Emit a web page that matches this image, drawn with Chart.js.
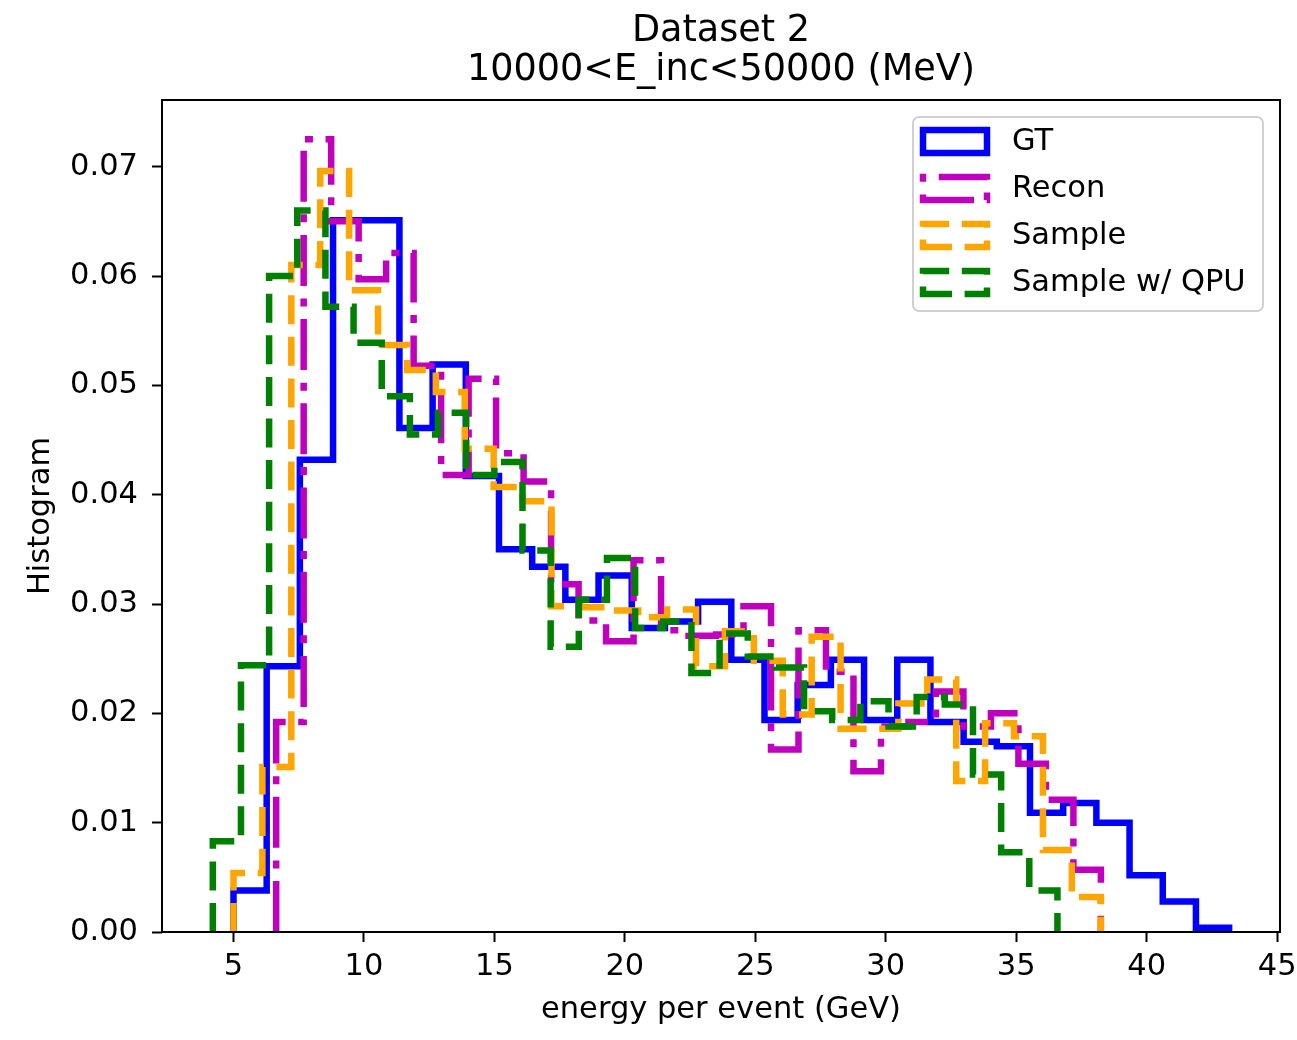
<!DOCTYPE html>
<html>
<head>
<meta charset="utf-8">
<title>Dataset 2 energy histogram</title>
<script src="https://cdn.jsdelivr.net/npm/chart.js@4.4.0/dist/chart.umd.min.js"></script>
<style>
  html, body { margin: 0; padding: 0; background: #fff; }
  #wrap { width: 1297px; height: 1040px; }
</style>
</head>
<body>
<div id="wrap"><canvas id="hist" width="1297" height="1040"></canvas></div>
<script>
// bin ranges in GeV (each histogram has 30 equal bins over its own range)
const gtRange = [5.0, 43.16];
const reconRange = [6.636, 38.245];
const sampleRange = [5.0, 38.24];
const qpuRange = [4.207, 36.58];

// normalised bin heights
const gtValues = [0.0038, 0.0243, 0.0432, 0.0651, 0.0651, 0.0461, 0.0519, 0.0417, 0.0350, 0.0334,
                  0.0304, 0.0326, 0.0278, 0.0284, 0.0302, 0.0249, 0.0194, 0.0226, 0.0249, 0.0194,
                  0.0249, 0.0192, 0.0174, 0.0170, 0.0109, 0.0118, 0.0100, 0.0052, 0.0028, 0.0004];
const reconValues = [0.0192, 0.0725, 0.0650, 0.0597, 0.0621, 0.0518, 0.0418, 0.0506, 0.0438, 0.0412,
                     0.0318, 0.0285, 0.0266, 0.0340, 0.0276, 0.0271, 0.0272, 0.0298, 0.0167, 0.0276,
                     0.0238, 0.0147, 0.0188, 0.0192, 0.0220, 0.0188, 0.0200, 0.0154, 0.0121, 0.0057];
const sampleValues = [0.0054, 0.0151, 0.0610, 0.0696, 0.0587, 0.0537, 0.0514, 0.0494, 0.0442, 0.0407,
                      0.0394, 0.0298, 0.0297, 0.0294, 0.0288, 0.0295, 0.0243, 0.0275, 0.0248, 0.0199,
                      0.0270, 0.0186, 0.0186, 0.0209, 0.0231, 0.0138, 0.0191, 0.0179, 0.0075, 0.0032];
const qpuValues = [0.0083, 0.0244, 0.0600, 0.0660, 0.0572, 0.0539, 0.0490, 0.0455, 0.0475, 0.0418,
                   0.0430, 0.0349, 0.0261, 0.0304, 0.0342, 0.0278, 0.0284, 0.0237, 0.0273, 0.0252,
                   0.0242, 0.0202, 0.0194, 0.0211, 0.0188, 0.0215, 0.0208, 0.0144, 0.0073, 0.0038];

const seriesNames = ['GT', 'Recon', 'Sample', 'Sample w/ QPU'];
const xTicks = [5, 10, 15, 20, 25, 30, 35, 40, 45];
const yTicks = [0, 0.01, 0.02, 0.03, 0.04, 0.05, 0.06, 0.07];
const titleLines = ['Dataset 2', '10000<E_inc<50000 (MeV)'];

const FONT = '"DejaVu Sans", sans-serif';
const LW = 6.5;
const colors = ['#0000ff', '#bf00bf', '#ffa500', '#008000'];
const dashes = [[], [51, 12.6, 8, 12.6], [29, 12.6], [29, 12.6]];

// outline of a step histogram: up from 0 at the first edge, across every bin, back down at the last edge
function stepPoints(range, values) {
  const w = (range[1] - range[0]) / values.length;
  const pts = [{x: range[0], y: 0}];
  values.forEach((v, i) => pts.push({x: range[0] + i * w, y: v}));
  pts.push({x: range[1], y: 0});
  return pts;
}

const ranges = [gtRange, reconRange, sampleRange, qpuRange];
const values = [gtValues, reconValues, sampleValues, qpuValues];

const datasets = seriesNames.map((name, i) => ({
  label: name,
  data: stepPoints(ranges[i], values[i]),
  stepped: true,
  borderColor: colors[i],
  borderWidth: LW,
  borderDash: dashes[i],
  borderCapStyle: 'butt',
  borderJoinStyle: 'miter',
  pointRadius: 0,
  fill: false,
  order: seriesNames.length - i
}));

const histDecor = {
  id: 'histDecor',
  afterDraw(chart) {
    const {ctx, chartArea: a} = chart;
    ctx.save();

    // axes frame
    ctx.strokeStyle = '#000';
    ctx.lineWidth = 2;
    ctx.setLineDash([]);
    ctx.strokeRect(a.left, a.top, a.right - a.left, a.bottom - a.top);

    // two line title over the plot area
    ctx.fillStyle = '#000';
    ctx.font = '36.6px ' + FONT;
    ctx.textAlign = 'center';
    ctx.textBaseline = 'alphabetic';
    const cx = (a.left + a.right) / 2;
    titleLines.forEach((t, i) => ctx.fillText(t, cx, 41 + i * 39));

    // legend box, upper right
    const bx = 913, by = 117, bw = 350, bh = 194;
    ctx.beginPath();
    ctx.roundRect(bx, by, bw, bh, 6);
    ctx.fillStyle = 'rgba(255,255,255,0.8)';
    ctx.fill();
    ctx.strokeStyle = '#d0d0d0';
    ctx.lineWidth = 2;
    ctx.stroke();

    ctx.font = '30.5px ' + FONT;
    ctx.textAlign = 'left';
    ctx.textBaseline = 'middle';
    seriesNames.forEach((name, i) => {
      const cy = 141.5 + i * 47;
      const x0 = 923, x1 = 987, yt = cy - 11.5, yb = cy + 11.5;
      ctx.beginPath();
      ctx.moveTo(x0, yb);
      ctx.lineTo(x1, yb);
      ctx.lineTo(x1, yt);
      ctx.lineTo(x0, yt);
      ctx.closePath();
      ctx.strokeStyle = colors[i];
      ctx.lineWidth = LW;
      ctx.lineJoin = 'miter';
      ctx.lineCap = 'butt';
      ctx.setLineDash(dashes[i]);
      ctx.stroke();
      ctx.setLineDash([]);
      ctx.fillStyle = '#000';
      ctx.fillText(name, 1012, cy + 1);
    });

    ctx.restore();
  }
};

new Chart(document.getElementById('hist'), {
  type: 'line',
  data: { datasets: datasets },
  options: {
    responsive: false,
    animation: false,
    events: [],
    layout: { padding: { top: 100, right: 17, bottom: 0, left: 0 } },
    plugins: {
      legend: { display: false },
      tooltip: { enabled: false },
      title: { display: false }
    },
    scales: {
      x: {
        type: 'linear',
        min: 2.26,
        max: 45.11,
        afterBuildTicks: (scale) => { scale.ticks = xTicks.map(v => ({value: v})); },
        afterFit: (scale) => { scale.height = 108; scale.paddingLeft = 0; scale.paddingRight = 0; },
        grid: { display: true, drawOnChartArea: false, drawTicks: true, tickLength: 10, tickWidth: 2, tickColor: '#000' },
        border: { display: false },
        ticks: { color: '#000', font: { family: FONT, size: 30.5 }, padding: 7, maxRotation: 0 },
        title: { display: true, text: 'energy per event (GeV)', color: '#000', font: { family: FONT, size: 30.5 }, padding: { top: 0, bottom: 12 } }
      },
      y: {
        type: 'linear',
        min: 0,
        max: 0.0761,
        afterBuildTicks: (scale) => { scale.ticks = yTicks.map(v => ({value: v})); },
        afterFit: (scale) => { scale.width = 162; scale.paddingTop = 0; scale.paddingBottom = 0; },
        grid: { display: true, drawOnChartArea: false, drawTicks: true, tickLength: 10, tickWidth: 2, tickColor: '#000' },
        border: { display: false },
        ticks: { color: '#000', font: { family: FONT, size: 30.5 }, padding: 14, callback: v => v.toFixed(2) },
        title: { display: true, text: 'Histogram', color: '#000', font: { family: FONT, size: 30.5 }, padding: { top: 23, bottom: 0 } }
      }
    }
  },
  plugins: [histDecor]
});
</script>
</body>
</html>
